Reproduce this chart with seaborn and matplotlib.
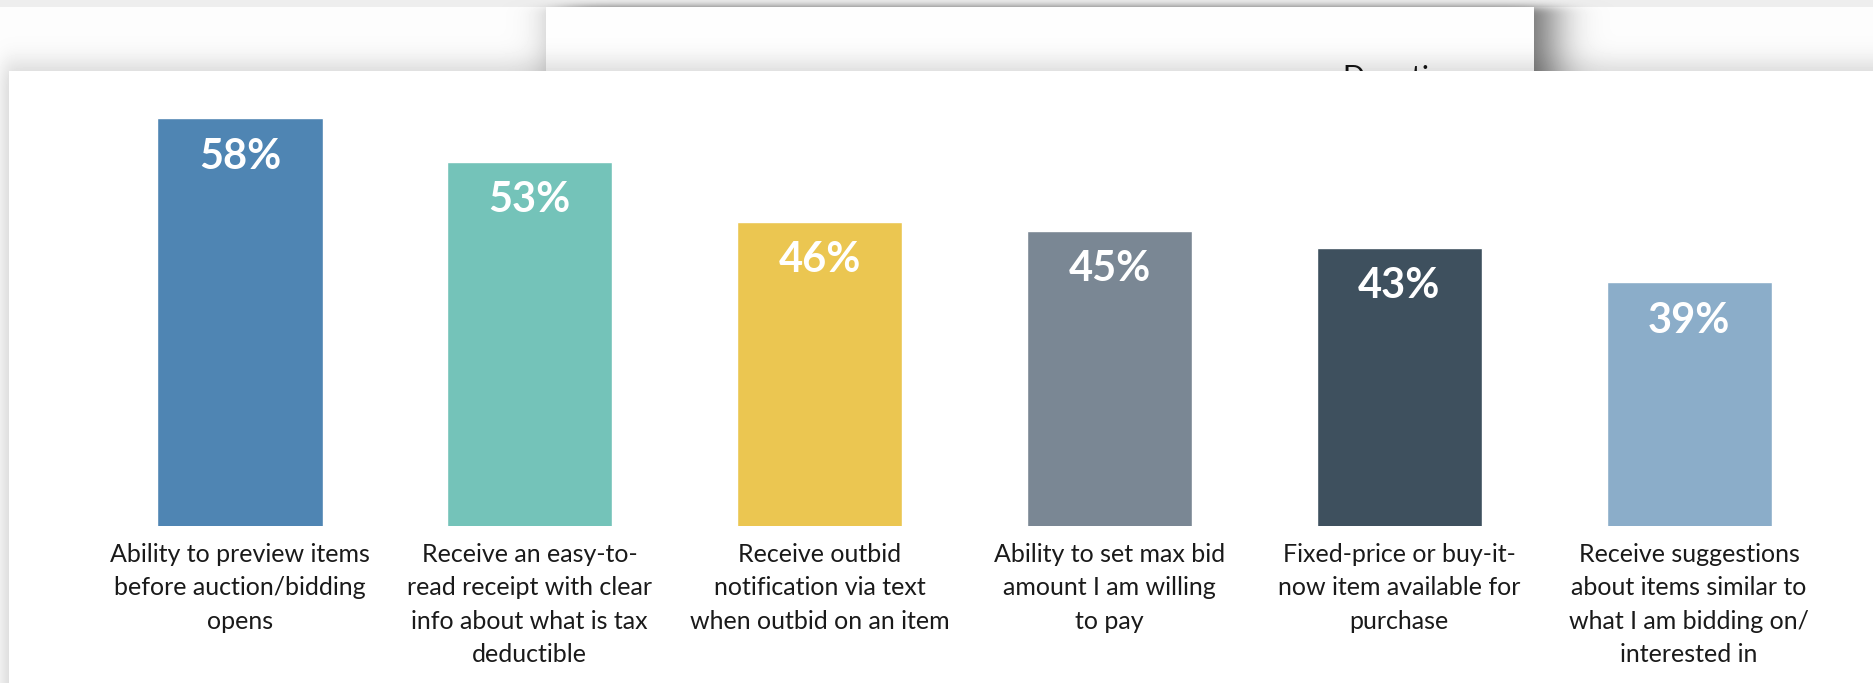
import numpy as np
import pandas as pd
import matplotlib
matplotlib.use("Agg")
import matplotlib.pyplot as plt
import seaborn as sns
from matplotlib.patches import Rectangle

# ---- data -------------------------------------------------------------
categories = [
    "Ability to preview items\nbefore auction/bidding\nopens",
    "Receive an easy-to-\nread receipt with clear\ninfo about what is tax\ndeductible",
    "Receive outbid\nnotification via text\nwhen outbid on an item",
    "Ability to set max bid\namount I am willing\nto pay",
    "Fixed-price or buy-it-\nnow item available for\npurchase",
    "Receive suggestions\nabout items similar to\nwhat I am bidding on/\ninterested in",
]
percent = [58, 53, 46, 45, 43, 39]
bar_colors = ["#4F85B3", "#74C3B9", "#EBC651", "#7A8794", "#3E505E", "#8BADC9"]

df = pd.DataFrame({"feature": categories, "pct": percent})

sns.set_theme(style="white")
plt.rcParams["font.family"] = ["Lato", "DejaVu Sans"]

W, H = 1874, 683
fig = plt.figure(figsize=(W / 100, H / 100), dpi=100)


# ---- stacked paper cards backdrop ---------------------------------------
def blur1d(a, sigma, axis):
    r = int(3 * sigma)
    k = np.exp(-0.5 * (np.arange(-r, r + 1) / sigma) ** 2)
    k /= k.sum()
    pad = [(0, 0), (0, 0)]
    pad[axis] = (r, r)
    ap = np.pad(a, pad, mode="edge")
    return np.apply_along_axis(lambda v: np.convolve(v, k, mode="valid"), axis, ap)


def blur(a, sx, sy):
    return blur1d(blur1d(a, sx, 1), sy, 0)


def rect_mask(x0, x1, y0, y1):
    m = np.zeros((H, W))
    m[max(y0, 0):min(y1, H), max(x0, 0):min(x1, W)] = 1.0
    return m


back = (546, 1534, 7, H)
front = (9, W + 40, 71, H)

img = np.full((H, W), 0.99)
img[:7, :] = 0.93
img *= 1 - 0.6 * blur(rect_mask(back[0] + 18, back[1] + 18, back[2], back[3]), 22, 4)
img[back[2]:back[3], back[0]:back[1]] = 0.995
img *= 1 - 0.15 * blur(rect_mask(front[0] - 6, front[1], front[2] - 8, front[3]), 8, 12)
img[front[2]:, front[0]:] = 1.0

bg = fig.add_axes([0, 0, 1, 1])
bg.imshow(img, cmap="gray", vmin=0, vmax=1, extent=(0, W, H, 0),
          interpolation="bilinear", aspect="auto")
bg.set_xlim(0, W)
bg.set_ylim(H, 0)
bg.axis("off")

# heading of the card underneath, mostly hidden by the front card
heading = bg.text(1342, 65, "Donation", fontsize=21, va="top", ha="left",
                  color="#111111", clip_on=True)
heading.set_clip_path(Rectangle((back[0], 0), back[1] - back[0], 71,
                                transform=bg.transData))

# ---- bar chart ----------------------------------------------------------
ax = fig.add_axes([0.0507, 0.2299, 0.928, 0.622])
ax.set_facecolor("none")
sns.barplot(data=df, x="feature", y="pct", hue="feature", palette=bar_colors,
            legend=False, width=0.57, saturation=1, ax=ax)
ax.set_xlim(-0.5, 5.5)
ax.set_ylim(10.8, 60)

for i, v in enumerate(percent):
    ax.annotate(f"{v}%", (i, v), xytext=(0, -27.5), textcoords="offset points",
                ha="center", va="center", color="white", fontsize=30,
                fontweight="bold")

ax.set_xticks(range(len(categories)))
ax.set_xticklabels(categories, fontsize=18, linespacing=1.55, color="#1a1a1a")
ax.tick_params(axis="x", length=0, pad=12)
ax.set_yticks([])
ax.set_xlabel("")
ax.set_ylabel("")
sns.despine(ax=ax, left=True, bottom=True)

fig.savefig("out.png", dpi=100)
